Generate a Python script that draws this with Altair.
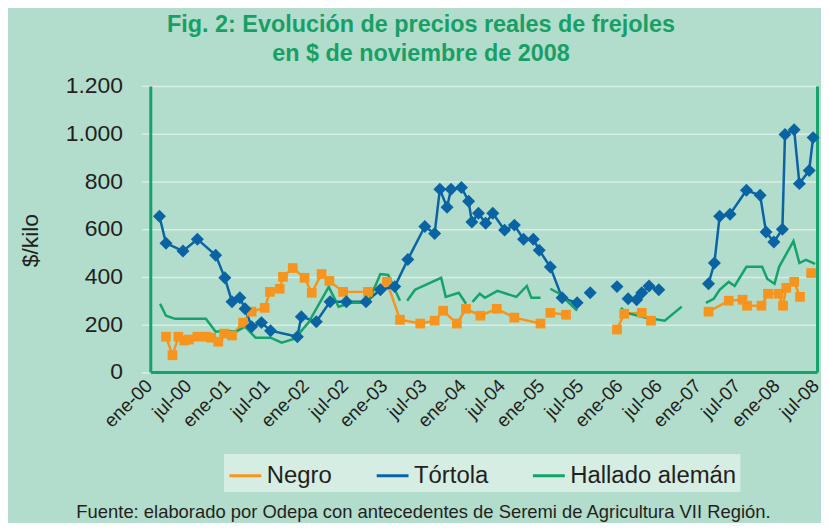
import altair as alt
import pandas as pd

# ---- data (x = months since ene-00, None marks a gap in the series) ----
series = ["Negro", "Tórtola", "Hallado alemán"]
colores = ["#f7941d", "#0a64a4", "#14a36a"]

negro_mes = [2.4, 3.4, 4.3, 5.2, 5.9, 7.2, 8.5, 9.3, 10.4, 11.3, 12.5, 14.2, 15.5, 17.5, 18.3,
             19.8, 20.3, 21.8, 23.6, 24.7, 26.2, 27.4, 29.5, 33.3, 36.2, 38.2, 41.3, 43.5, 44.8,
             46.9, 48.3, 50.5, 53.0, 55.7, 59.7, None, 61.2, 63.6, None, 71.4, 72.5, 75.2, 76.6,
             None, 85.4, 88.5, 90.6, 91.3, 93.5, 94.5, 96.1, 96.8, 97.3, 98.5, 99.4, None, 101.1]
negro_val = [148, 70, 148, 132, 136, 148, 148, 144, 127, 161, 153, 207, 253, 269, 336,
             349, 399, 436, 395, 332, 411, 382, 336, 336, 378, 219, 203, 215, 257,
             203, 265, 236, 265, 228, 203, None, 248, 240, None, 178, 244, 248, 215,
             None, 253, 299, 303, 278, 278, 328, 328, 278, 353, 378, 315, None, 415]

tortola_mes = [1.4, 2.4, 5.0, 7.2, 10.0, 11.4, 12.5, 13.7, 14.5, 15.5, 17.0, 18.4, 22.5, 23.1,
               25.4, 27.5, 30.0, 33.0, 35.2, 37.4, 39.4, 42.0, 43.5, 44.3, 45.4, 46.0, 47.6,
               48.7, 49.2, 50.2, 51.3, 52.4, 54.2, 55.7, 57.1, 58.6, 59.5, 61.2, 63.0, 65.3,
               None, 67.3, None, 71.4, None, 73.1, 74.4, 75.2, 76.3, 77.8, None,
               85.4, 86.3, 87.1, 88.7, 91.2, 93.3, 94.2, 95.4, 96.7, 97.1, 98.5, 99.3, 100.8, 101.4]
tortola_val = [653, 540, 507, 557, 490, 395, 295, 311, 265, 190, 207, 173, 148, 232,
               211, 295, 295, 295, 345, 358, 472, 610, 581, 766, 691, 766, 774,
               716, 629, 666, 624, 666, 595, 616, 557, 557, 511, 440, 311, 290,
               None, 332, None, 358, None, 307, 303, 332, 361, 345, None,
               370, 457, 653, 662, 762, 741, 587, 545, 599, 996, 1016, 790, 845, 983]

hallado_mes = [1.5, 2.4, 3.8, 8.5, 10.0, 11.6, 13.1, 14.5, 16.1, 18.4, 20.1, 22.1, 24.2, 27.3,
               28.8, 30.8, 33.3, 35.2, 36.4, 38.2, None, 39.3, 40.5, 44.5, 45.2, 47.2, 48.3, None,
               49.3, 50.4, 51.2, 53.1, 56.0, 57.6, 58.3, 59.7, None, 61.2, 62.6, 65.3, None,
               72.0, 72.9, 75.7, 78.7, 81.3, None, 85.0, 86.2, 87.1, 88.5, 89.4, 91.2, 93.6,
               94.4, 95.5, 96.2, 98.4, 99.3, 100.3, 101.7]
hallado_val = [286, 236, 223, 223, 169, 173, 169, 190, 144, 144, 123, 140, 207, 357,
               274, 290, 290, 411, 407, 299, None, 299, 345, 395, 315, 332, 286, None,
               294, 328, 311, 340, 315, 361, 311, 311, None, 349, 328, 257, None,
               269, 248, 228, 215, 274, None, 290, 307, 345, 378, 361, 441, 441,
               390, 370, 441, 549, 457, 470, 453]

ticks_x = list(range(0, 103, 6))
ticks_y = [0, 200, 400, 600, 800, 1000, 1200]

titulo = ["Fig. 2: Evolución de precios reales de frejoles", "en $ de noviembre de 2008"]
fuente = "Fuente: elaborado por Odepa con antecedentes de Seremi de Agricultura VII Región."


def filas(nombre, meses, valores):
    out = []
    tramo = 0
    for m, v in zip(meses, valores):
        if m is None or v is None:
            tramo += 1
            continue
        out.append({"serie": nombre, "mes": m, "valor": v, "tramo": f"{nombre} {tramo}"})
    return out


df = pd.DataFrame(filas("Negro", negro_mes, negro_val)
                  + filas("Tórtola", tortola_mes, tortola_val)
                  + filas("Hallado alemán", hallado_mes, hallado_val))

FONT = "Liberation Sans"
VERDE = "#15a36b"
GRID = "#d9eee5"
TXT = "#231f20"

x_enc = alt.X(
    "mes:Q",
    scale=alt.Scale(domain=[0, 102], nice=False, zero=False),
    axis=alt.Axis(
        values=ticks_x,
        labelExpr="(datum.value % 12 == 0 ? 'ene-' : 'jul-') + '0' + floor(datum.value / 12)",
        labelAngle=315, labelAlign="right", labelBaseline="top",
        labelFontSize=19, labelFont=FONT, labelColor=TXT, labelPadding=4, labelOffset=-8,
        labelOverlap=False, labelFlush=False, labelBound=False,
        ticks=False, grid=False, domainColor=VERDE, domainWidth=3,
        title=fuente, titleFont=FONT, titleFontSize=18.5, titleFontWeight="normal",
        titleColor=TXT, titleX=274, titleY=146, titleAlign="center",
        titleBaseline="alphabetic", titleAngle=0,
    ),
)

y_scale = alt.Scale(domain=[0, 1200], nice=False, zero=True)

y_left = alt.Y(
    "valor:Q", scale=y_scale,
    axis=alt.Axis(
        values=ticks_y,
        labelExpr="replace(format(datum.value, ','), ',', '.')",
        labelFontSize=23, labelFont=FONT, labelColor=TXT, labelPadding=19,
        tickSize=9, tickColor=GRID, tickWidth=1.5,
        grid=True, gridColor=GRID, gridWidth=1.5,
        domainColor=VERDE, domainWidth=3,
        title="$/kilo", titleFont=FONT, titleFontSize=23, titleFontWeight="normal",
        titleColor=TXT, titleAngle=270, titleX=-120, titleY=155,
        titleAlign="center", titleBaseline="middle",
    ),
)
y_none = alt.Y("valor:Q", scale=y_scale, axis=None)
y_right = alt.Y(
    "valor:Q", scale=y_scale,
    axis=alt.Axis(orient="right", labels=False, ticks=False, grid=False,
                  domainColor=VERDE, domainWidth=3, title=None),
)

# single shared colour scale; its legend (line symbols) is the chart legend
leg = alt.Legend(
    title=None, orient="none", legendX=74, legendY=370, direction="horizontal",
    fillColor="#d6ede3", padding=4, symbolType="stroke", symbolSize=1024,
    symbolStrokeWidth=3, labelFontSize=24, labelFont=FONT, labelColor=TXT,
    columnPadding=38, labelLimit=400,
)
color_enc = alt.Color("serie:N", scale=alt.Scale(domain=series, range=colores), legend=leg)

base = alt.Chart(df)

lineas = base.mark_line(strokeWidth=2.5).encode(
    x=x_enc, y=y_left, color=color_enc, detail="tramo:N",
    order=alt.Order("mes:Q"),
)
negro_p = base.transform_filter(alt.datum.serie == "Negro").mark_point(
    filled=True, shape="square", size=95, opacity=1).encode(x=x_enc, y=y_none, color=color_enc)
tort_p = base.transform_filter(alt.datum.serie == "Tórtola").mark_point(
    filled=True, shape="diamond", size=170, opacity=1).encode(x=x_enc, y=y_right, color=color_enc)

chart = alt.layer(lineas, negro_p, tort_p).resolve_axis(
    y="independent"
).properties(
    width=670, height=287.5,
    padding={"left": 143, "top": 77, "right": 4, "bottom": 150},
    autosize=alt.AutoSizeParams(type="none"),
    background="#b2dccb",
    title=alt.TitleParams(
        text=titulo, font=FONT, fontSize=23.5, fontWeight="bold", color="#17a066",
        anchor="middle", frame="group", dx=-63, offset=9, lineHeight=30,
    ),
).configure_view(stroke=None)

chart.save("out.html", embed_options={"renderer": "svg", "actions": False})
